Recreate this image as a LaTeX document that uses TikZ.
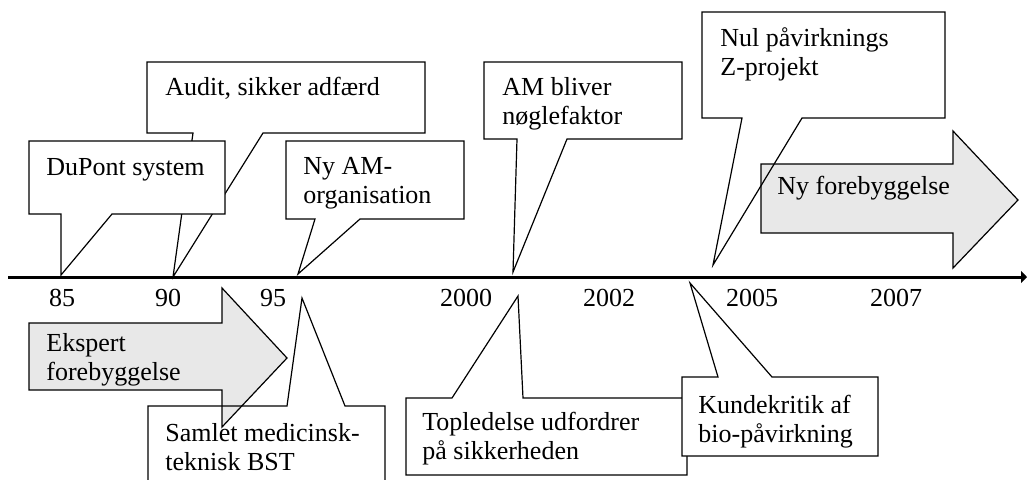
\documentclass[tikz,border=0pt]{standalone}
\usepackage{fontspec}
\setmainfont{Liberation Serif}
\usepackage{xcolor}
\usetikzlibrary{arrows.meta}
\definecolor{ArrowGray}{HTML}{E8E8E8}

\begin{document}
\begin{tikzpicture}[
    x=0.5pt, y=-0.5pt,
    callout/.style={draw=black, line width=0.6pt, fill=white, line join=miter},
    openbox/.style={draw=black, line width=0.6pt, line join=miter},
    bigarrow/.style={draw=black, line width=0.6pt, fill=ArrowGray, line join=miter},
    txt/.style={anchor=base west, inner sep=0pt, align=left, font=\fontsize{13}{14.5}\selectfont},
    year/.style={anchor=base, inner sep=0pt, font=\fontsize{13}{14.5}\selectfont},
    axis/.style={line width=1.5pt, -{Triangle[length=3pt,width=6pt]}}
  ]
    \useasboundingbox (0,0) rectangle (1028,479);
    \clip (0,0) rectangle (1028,479);

    % pointer tips on the time axis
    \coordinate (t85) at (61,275);
    \coordinate (t90) at (173,277);
    \coordinate (t95) at (298,274);
    \coordinate (tam) at (513,272);
    \coordinate (tnul) at (713,265);
    \coordinate (tsam) at (302,298);
    \coordinate (ttop) at (518,296);
    \coordinate (tkun) at (690,283);

    % old prevention (text placed by its last baseline)
    \draw[bigarrow] (29,323) -- (222,323) -- (222,288) -- (287,358) -- (222,427) -- (222,390) -- (29,390) -- cycle;
    \node[txt] (ekspert) at (46,380) {Ekspert\\forebyggelse};

    % callouts above the axis
    \draw[callout] (147,62) -- (425,62) -- (425,133) -- (263,133) -- (t90) -- (193,133) -- (147,133) -- cycle;
    \node[txt] (audit) at (165,95) {Audit, sikker adfærd};

    \draw[callout] (29,141) -- (225,141) -- (225,214) -- (112,214) -- (t85) -- (61,214) -- (29,214) -- cycle;
    \node[txt] (dupont) at (46,175) {DuPont system};

    \draw[callout] (286,141) -- (464,141) -- (464,219) -- (360,219) -- (t95) -- (315,219) -- (286,219) -- cycle;
    \node[txt] (nyam) at (303,203) {Ny AM-\\organisation};

    \draw[callout] (484,62) -- (682,62) -- (682,139) -- (567,139) -- (tam) -- (517,139) -- (484,139) -- cycle;
    \node[txt] (ambliver) at (502,124) {AM bliver\\nøglefaktor};

    % new prevention
    \draw[bigarrow] (761,164) -- (953,164) -- (953,131) -- (1018,200) -- (953,268) -- (953,233) -- (761,233) -- cycle;
    \node[txt] (nyforeb) at (777,194) {Ny forebyggelse};

    \draw[openbox] (702,12) -- (945,12) -- (945,118) -- (802,118) -- (tnul) -- (742,118) -- (702,118) -- cycle;
    \node[txt] (nul) at (720,75) {Nul påvirknings\\Z-projekt};

    % callouts below the axis
    \draw[callout] (406,398) -- (452,398) -- (ttop) -- (523,398) -- (687,398) -- (687,475) -- (406,475) -- cycle;
    \node[txt] (topled) at (422,459) {Topledelse udfordrer\\på sikkerheden};

    \draw[callout] (682,377) -- (718,377) -- (tkun) -- (772,377) -- (878,377) -- (878,456) -- (682,456) -- cycle;
    \node[txt] (kunde) at (698,442) {Kundekritik af\\bio-påvirkning};

    \draw[openbox] (148,490) -- (148,406) -- (287,406) -- (tsam) -- (345,406) -- (385,406) -- (385,490);
    \node[txt] (samlet) at (165,470) {Samlet medicinsk-\\teknisk BST};

    % time axis
    \coordinate (ax0) at (8,277);
    \coordinate (ax1) at (1027,277);
    \draw[axis] (ax0) -- (ax1);

    \node[year] (y85) at (62,306) {85};
    \node[year] (y90) at (168,306) {90};
    \node[year] (y95) at (273,306) {95};
    \node[year] (y00) at (466,306) {2000};
    \node[year] (y02) at (609,306) {2002};
    \node[year] (y05) at (752,306) {2005};
    \node[year] (y07) at (896,306) {2007};
\end{tikzpicture}
\end{document}
